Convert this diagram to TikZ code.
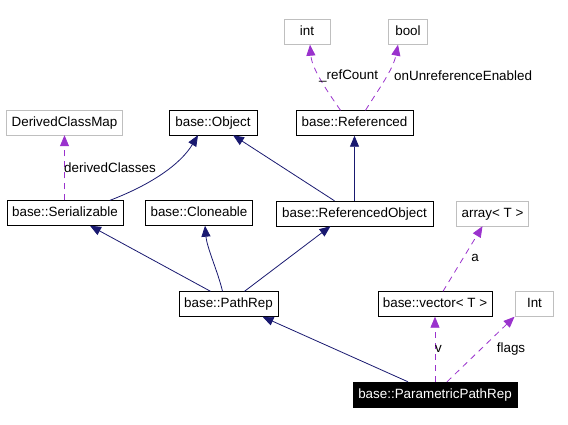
\documentclass[tikz,border=0pt]{standalone}
\usepackage{fontspec}
\setmainfont{Liberation Sans}
\usepackage{tikz}
\usetikzlibrary{arrows.meta,calc,positioning}
\definecolor{edgeblue}{HTML}{191970}
\definecolor{edgepurple}{HTML}{9A32CD}
\definecolor{boxgray}{HTML}{BFBFBF}
\tikzset{%
	cls/.style      = {draw, rectangle, inner xsep=5pt, inner ysep=0pt, minimum height=25pt, font=\fontsize{13.4}{16}\selectfont, text height=10pt, text depth=3pt},
	plain/.style    = {cls, draw=boxgray},
	current/.style  = {cls, fill=black, text=white},
	inherit/.style  = {edgeblue, line width=0.8pt, -{Triangle[length=11pt,width=9pt]}},
	member/.style   = {edgepurple, line width=0.8pt, dash pattern=on 6pt off 5pt, -{Triangle[length=11pt,width=9pt]}},
	lbl/.style      = {font=\fontsize{13.4}{16}\selectfont, inner sep=1pt},
}
\begin{document}
\begin{tikzpicture}[x=1pt,y=-1pt]
	\useasboundingbox (0,0) rectangle (568,424);
	
	\node[plain,minimum width=46pt] (int) at (307,32) {int};
	\node[plain,minimum width=39pt] (bool) at (408,32) {bool};
	\node[cls,minimum width=117pt] (referenced) at (354.5,123) {base::Referenced};
	\node[plain,minimum width=114pt] (classmap) at (64.5,122.5) {DerivedClassMap};
	\node[cls,minimum width=88pt] (object) at (213,122.5) {base::Object};
	\node[cls,minimum width=116pt] (serializable) at (65,213) {base::Serializable};
	\node[cls,minimum width=107pt] (cloneable) at (199,213) {base::Cloneable};
	\node[cls,minimum width=157pt] (refobject) at (354.5,213.5) {base::ReferencedObject};
	\node[plain,minimum width=71pt] (array) at (492.5,213.5) {array< T >};
	\node[cls,minimum width=97pt] (pathrep) at (228.5,304) {base::PathRep};
	\node[cls,minimum width=112pt] (vector) at (435,304) {base::vector< T >};
	\node[plain,minimum width=38pt] (intflags) at (534.5,304) {Int};
	\node[current,minimum width=161pt] (parametric) at (435,394.5) {base::ParametricPathRep};
	
	% members
	\draw[member] ([xshift=-14pt]referenced.north) .. controls (330,95) and (312,70) .. ([xshift=3pt]int.south);
	\draw[member] ([xshift=11pt]referenced.north) .. controls (378,90) and (393,70) .. ([xshift=-10pt]bool.south);
	\draw[member] (serializable.north -| classmap.south) -- (classmap.south);
	\draw[member] ([xshift=8pt]vector.north) -- ([xshift=-10pt]array.south);
	\draw[member] (parametric.north) -- (vector.south);
	\draw[member] ([xshift=12pt]parametric.north) -- ([xshift=-20pt]intflags.south);
	\node[lbl,anchor=west] at (318,76) {\_refCount};
	\node[lbl,anchor=west] at (393,76) {onUnreferenceEnabled};
	\node[lbl,anchor=west] at (63,168) {derivedClasses};
	\node[lbl] at (475,258) {a};
	\node[lbl] at (438.5,349) {v};
	\node[lbl] at (511,349) {flags};
	
	% inheritance
	\draw[inherit] ([xshift=45pt]serializable.north) .. controls (150,185) and (180,165) .. ([xshift=-15pt]object.south);
	\draw[inherit] ([xshift=-20pt]refobject.north) -- ([xshift=20pt]object.south);
	\draw[inherit] (refobject.north) -- (referenced.south);
	\draw[inherit] ([xshift=-18pt]pathrep.north) -- ([xshift=25pt]serializable.south);
	\draw[inherit] ([xshift=-6pt]pathrep.north) .. controls (218,272) and (207,248) .. ([xshift=6pt]cloneable.south);
	\draw[inherit] ([xshift=16pt]pathrep.north) -- ([xshift=-24pt]refobject.south);
	\draw[inherit] ([xshift=-27pt]parametric.north) -- ([xshift=34pt]pathrep.south);
	
\end{tikzpicture}
\end{document}
